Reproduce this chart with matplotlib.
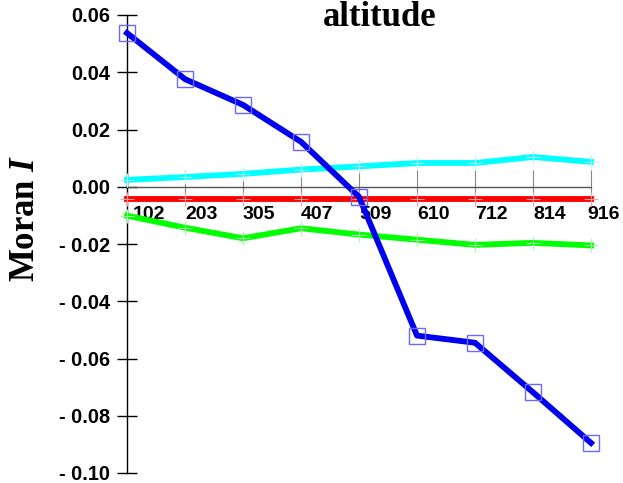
import numpy as np
import matplotlib
matplotlib.use("Agg")
import matplotlib.pyplot as plt
from matplotlib.transforms import ScaledTranslation

plt.rcParams["mathtext.fontset"] = "custom"
plt.rcParams["mathtext.bfit"] = "Liberation Serif:italic:bold"

# distance classes (x axis categories)
classes = ["102", "203", "305", "407", "509", "610", "712", "814", "916"]

# Moran's I per series
moran_blue = [0.0537, 0.0376, 0.0286, 0.0157, -0.0035, -0.0520, -0.0545, -0.0718, -0.0895]
moran_cyan = [0.0024, 0.0034, 0.0045, 0.0060, 0.0071, 0.0083, 0.0083, 0.0104, 0.0087]
moran_red = [-0.0043] * 9
moran_green = [-0.0101, -0.0143, -0.0180, -0.0145, -0.0167, -0.0185, -0.0203, -0.0196, -0.0205]

y_ticks = [0.06, 0.04, 0.02, 0.00, -0.02, -0.04, -0.06, -0.08, -0.10]
y_labels = ["0.06", "0.04", "0.02", "0.00", "- 0.02", "- 0.04", "- 0.06", "- 0.08", "- 0.10"]

W, H = 623, 483
fig = plt.figure(figsize=(W / 100, H / 100), dpi=100)
ax = fig.add_axes([127 / W, 1 - 473 / H, (591 - 127) / W, (473 - 15) / H])

x = np.arange(len(classes))

ax.plot(x, moran_cyan, color="#00ffff", lw=4.2, marker="+", ms=10, mew=0.8,
        mec="#a0ffff", clip_on=False, zorder=3)
ax.plot(x, moran_red, color="#ff0000", lw=4.2, marker="+", ms=10, mew=0.8,
        mec="#ffa0a0", clip_on=False, zorder=3)
ax.plot(x, moran_green, color="#00ff00", lw=4.2, marker="+", ms=10, mew=0.8,
        mec="#a0ffa0", clip_on=False, zorder=3)
ax.plot(x, moran_blue, color="#0000ee", lw=4.2, marker="s", ms=11, mew=1,
        mfc="none", mec="#6a6aff", clip_on=False, zorder=4)

ax.set_xlim(0, len(classes) - 1)
ax.set_ylim(-0.10, 0.06)

# axes styling: y axis at left, x axis through zero
for s in ["top", "right"]:
    ax.spines[s].set_visible(False)
ax.spines["bottom"].set_position(("data", 0))
ax.spines["bottom"].set_color("#555555")
ax.spines["bottom"].set_linewidth(1)
ax.spines["left"].set_linewidth(1)

ax.set_yticks(y_ticks)
ax.set_yticklabels(y_labels, fontfamily="Liberation Sans", fontweight="bold", fontsize=14.4)
ax.tick_params(axis="y", direction="inout", length=14, width=1, pad=5)

ax.set_xticks(x)
ax.set_xticklabels(classes, fontfamily="Liberation Sans", fontweight="bold", fontsize=14,
                   ha="left")
ax.tick_params(axis="x", direction="inout", length=24, width=0.8, color="#888888", pad=2)
for i, lab in enumerate(ax.get_xticklabels()):
    dx = 6 if i == 0 else (-4 if i == len(classes) - 1 else 0)
    lab.set_transform(lab.get_transform() + ScaledTranslation(dx / 100, 0, fig.dpi_scale_trans))

fig.text(380 / W, 1 - 17 / H, "altitude", ha="center", va="center",
         fontfamily="Liberation Serif", fontweight="bold", fontsize=25)
fig.text(25 / W, 1 - 218 / H, r"Moran $\mathbfit{I}$", ha="center", va="center", rotation=90,
         fontfamily="Liberation Serif", fontweight="bold", fontsize=25)

fig.savefig("out.png", dpi=100)
